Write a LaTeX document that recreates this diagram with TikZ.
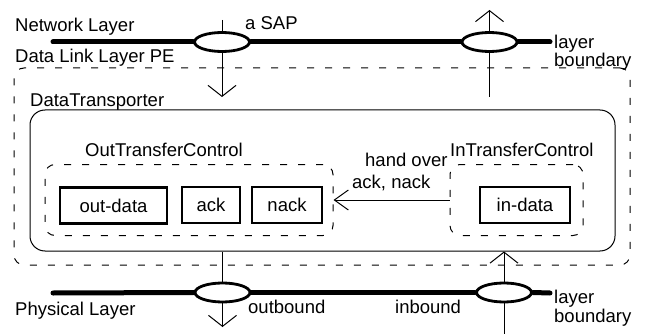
\documentclass[tikz,border=0pt]{standalone}
\usepackage{fontspec}
\setmainfont{Liberation Sans}
\usetikzlibrary{arrows.meta,shapes.geometric}
\begin{document}
\begin{tikzpicture}[x=1pt,y=-1pt,
  lbl/.style={anchor=base west,inner sep=0pt,font=\fontsize{18.5}{20}\selectfont},
  layerline/.style={line width=5pt,line cap=round},
  sap/.style={ellipse,draw,line width=2.8pt,fill=white,minimum width=55pt,minimum height=19pt,inner sep=0pt},
  flow/.style={line width=1pt,-{Straight Barb[length=11pt,width=28pt,line width=1pt]}},
  handover/.style={line width=1pt,-{Straight Barb[length=14pt,width=20pt,line width=1pt]}},
  pebox/.style={draw,line width=1pt,dash pattern=on 7pt off 11pt,rounded corners=10pt,inner sep=0pt},
  buf/.style={draw,line width=2.5pt,minimum height=36pt,inner sep=0pt,font=\fontsize{18.5}{20}\selectfont}
]
\useasboundingbox (0,0) rectangle (645,334);

% protocol entity and its components
\node[pebox,minimum width=616pt,minimum height=197pt] (pe) at (322,166.5) {};
\node[draw,line width=1pt,rounded corners=15pt,minimum width=585pt,minimum height=141pt,inner sep=0pt] (dt) at (322.5,180.5) {};
\node[pebox,minimum width=288pt,minimum height=71pt] (otc) at (189,200) {};
\node[pebox,minimum width=133pt,minimum height=71pt] (itc) at (516.5,200) {};

\node[buf,minimum width=107pt] (outdata) at (113.5,205.5) {out-data};
\node[buf,minimum width=58pt] (ack) at (211,205) {ack};
\node[buf,minimum width=70pt] (nack) at (287,205) {nack};
\node[buf,minimum width=90pt] (indata) at (525,205) {in-data};

% service access points on the layer boundaries
\node[sap] (sapnu) at (222,42) {};
\node[sap] (sapnd) at (489.5,42) {};
\node[sap] (sapout) at (222.5,292.5) {};
\node[sap] (sapin) at (504,292.5) {};

\coordinate (nl0) at (53,42);
\coordinate (nl1) at (550,42);
\coordinate (pl0) at (53,293);
\coordinate (pl1) at (550,293);
\draw[layerline] (nl0) -- (sapnu.west);
\draw[layerline] (sapnu.east) -- (sapnd.west);
\draw[layerline] (sapnd.east) -- (nl1);
\draw[layerline] (pl0) -- (sapout.west);
\draw[layerline] (sapout.east) -- (sapin.west);
\draw[layerline] (sapin.east) -- (pl1);

% data flows through the SAPs
\coordinate (dn0) at (222,20);
\coordinate (dn1) at (222,97);
\draw[line width=1pt] (dn0) -- (sapnu.north);
\draw[flow] (sapnu.south) -- (dn1);

\coordinate (up0) at (489.5,97);
\coordinate (up1) at (489.5,10);
\draw[line width=1pt] (up0) -- (sapnd.south);
\draw[flow] (sapnd.north) -- (up1);

\coordinate (ob1) at (222.5,327);
\draw[line width=1pt] (sapout |- dt.south) -- (sapout.north);
\draw[flow] (sapout.south) -- (ob1);

\coordinate (ib0) at (504,334);
\draw[line width=1pt] (ib0) -- (sapin.south);
\draw[flow] (sapin.north) -- (sapin |- dt.south);

\draw[handover] (itc.west) -- (otc.east);

% labels
\node[lbl] (tnet) at (15,32) {Network Layer};
\node[lbl] (tsap) at (245,30) {a SAP};
\node[lbl] (tdll) at (15,63) {Data Link Layer PE};
\node[lbl] (tlb1) at (554,49) {layer};
\node[lbl] (tlb2) at (554,67) {boundary};
\node[lbl] (tdt) at (30,107) {DataTransporter};
\node[lbl] (totc) at (85,157) {OutTransferControl};
\node[lbl] (titc) at (450,157) {InTransferControl};
\node[lbl] (tho1) at (365,166) {hand over};
\node[lbl] (tho2) at (352,188) {ack, nack};
\node[lbl] (tphy) at (15,315) {Physical Layer};
\node[lbl] (tout) at (248,313) {outbound};
\node[lbl] (tin) at (395,313) {inbound};
\node[lbl] (tlb3) at (554,303) {layer};
\node[lbl] (tlb4) at (554,322) {boundary};
\end{tikzpicture}
\end{document}
